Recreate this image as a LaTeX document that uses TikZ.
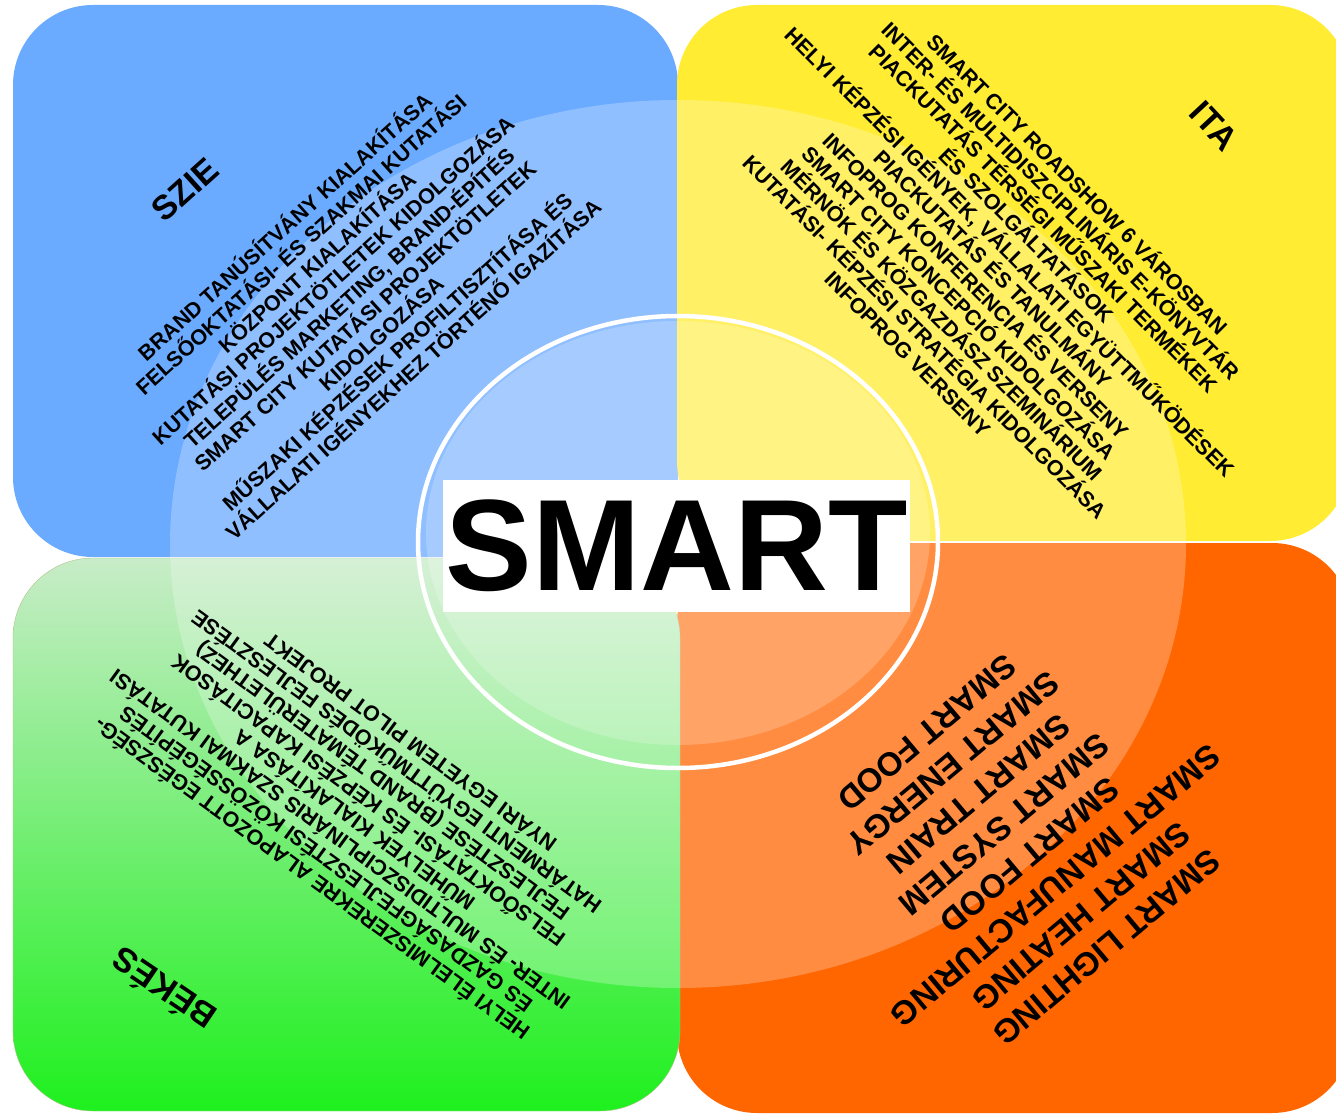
\documentclass[tikz,border=0pt]{standalone}
\usepackage{fontspec}
\setmainfont{Liberation Sans}
\definecolor{szieblue}{RGB}{106,170,255}
\definecolor{itayellow}{RGB}{255,236,51}
\definecolor{smartorange}{RGB}{255,102,0}
\definecolor{bekeslight}{RGB}{200,236,200}
\definecolor{bekesgreen}{RGB}{30,240,30}
\definecolor{bekesedge}{RGB}{176,196,140}
\begin{document}
\begin{tikzpicture}[x=1pt,y=-1pt,
    quad/.style={rounded corners=80pt},
    itemlist/.style={font=\bfseries\fontsize{21.5}{24}\selectfont,align=center,inner sep=0pt},
    smartlist/.style={font=\bfseries\fontsize{33}{40}\selectfont,align=center,inner sep=0pt},
    tag/.style={font=\bfseries\fontsize{34}{34}\selectfont,inner sep=0pt}]
    \useasboundingbox (0,0) rectangle (1336,1118);
    \fill[white] (0,0) rectangle (1336,1118);
    \coordinate(C0) at (678,544);
    % four fields
    \foreach \col/\x/\y/\X/\Y in {szieblue/13/5/678/557,itayellow/677/5/1350/541,smartorange/677/543/1352/1113}{
      \fill[\col,quad] (\x,\y) rectangle (\X,\Y);
    }
    \shade[top color=bekeslight,bottom color=bekesgreen,draw=bekesedge,quad] (13,558) rectangle (680,1111);
    % glass
    \fill[white,opacity=0.25] (C0) ellipse[x radius=508,y radius=444];
    \fill[white,opacity=0.2] (678,533) ellipse[x radius=252,y radius=212];
    \draw[white,line width=4.5pt] (678,542) ellipse[x radius=260,y radius=226];
    \node[fill=white,minimum width=467pt,minimum height=132pt,inner sep=0pt,
      font=\bfseries\fontsize{130}{130}\selectfont] (SMART) at (676.5,546) {SMART};
    % partners
    \foreach \n/\t/\p/\r in {SZIE/SZIE/{185,190}/42,ITA/ITA/{1214,126}/-47,BEKES/BÉKÉS/{163,990}/146}{
      \node[tag,rotate=\r] (\n) at (\p) {\t};
    }
    \node[itemlist,rotate=42] (SZIElist) at (348,297) {BRAND TANÚSÍTVÁNY KIALAKÍTÁSA\\
      FELSŐOKTATÁSI- ÉS SZAKMAI KUTATÁSI\\
      KÖZPONT KIALAKÍTÁSA\\
      KUTATÁSI PROJEKTÖTLETEK KIDOLGOZÁSA\\
      TELEPÜLÉS MARKETING, BRAND-ÉPÍTÉS\\
      SMART CITY KUTATÁSI PROJEKTÖTLETEK\\
      KIDOLGOZÁSA\\
      MŰSZAKI KÉPZÉSEK PROFILTISZTÍTÁSA ÉS\\
      VÁLLALATI IGÉNYEKHEZ TÖRTÉNŐ IGAZÍTÁSA};
    \node[itemlist,rotate=-45] (ITAlist) at (994,268) {SMART CITY ROADSHOW 6 VÁROSBAN\\
      INTER- ÉS MULTIDISZCIPLINÁRIS E-KÖNYVTÁR\\
      PIACKUTATÁS TÉRSÉGI MŰSZAKI TERMÉKEK\\
      ÉS SZOLGÁLTATÁSOK\\
      HELYI KÉPZÉSI IGÉNYEK, VÁLLALATI EGYÜTTMŰKÖDÉSEK\\
      PIACKUTATÁS ÉS TANULMÁNY\\
      INFOPROG KONFERENCIA ÉS VERSENY\\
      SMART CITY KONCEPCIÓ KIDOLGOZÁSA\\
      MÉRNÖK ÉS KÖZGAZDÁSZ SZEMINÁRIUM\\
      KUTATÁSI- KÉPZÉSI STRATÉGIA KIDOLGOZÁSA\\
      INFOPROG VERSENY};
    \node[itemlist,rotate=144] (BEKESlist) at (360,812) {HELYI ÉLELMISZEREKRE ALAPOZOTT EGÉSZSÉG-\\
      ÉS GAZDASÁGFEJLESZTÉSI KÖZÖSSÉGÉPÍTÉS\\
      INTER- ÉS MULTIDISZCIPLINÁRIS SZAKMAI KUTATÁSI\\
      MŰHELYEK KIALAKÍTÁSA A\\
      FELSŐOKTATÁSI- ÉS KÉPZÉSI KAPACITÁSOK\\
      FEJLESZTÉSE (BRAND TÉMATERÜLETHEZ)\\
      HATÁRMENTI EGYÜTTMŰKÖDÉS FEJLESZTÉSE\\
      NYÁRI EGYETEM PILOT PROJEKT};
    \node[smartlist,rotate=220] (SMARTlist) at (1017,840) {SMART LIGHTING\\
      SMART HEATING\\
      SMART MANUFACTURING\\
      SMART FOOD\\
      SMART SYSTEM\\
      SMART TRAIN\\
      SMART ENERGY\\
      SMART FOOD};
  \end{tikzpicture}
\end{document}
